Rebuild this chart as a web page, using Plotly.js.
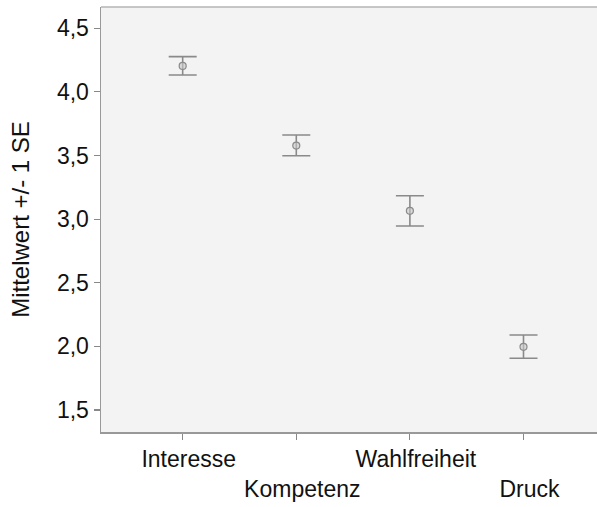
<!DOCTYPE html>
<html>
<head>
<meta charset="utf-8">
<script src="https://cdn.plot.ly/plotly-3.0.1.min.js"></script>
<style>html,body{margin:0;padding:0;background:#fff;}#chart{width:597px;height:507px;}</style>
</head>
<body>
<div id="chart"></div>
<script>
const categories = ["Interesse", "Kompetenz", "Wahlfreiheit", "Druck"];
const tickLabels = ["Interesse", "<br>Kompetenz", "Wahlfreiheit", "<br>Druck"];
const means = [4.204, 3.578, 3.065, 1.996];
const seUpper = [0.073, 0.083, 0.119, 0.093];
const seLower = [0.071, 0.080, 0.119, 0.090];
const yTicks = [1.5, 2.0, 2.5, 3.0, 3.5, 4.0, 4.5];

const trace = {
  type: "scatter",
  mode: "markers",
  x: [0, 1, 2, 3],
  y: means,
  error_y: {type: "data", symmetric: false, array: seUpper, arrayminus: seLower,
            color: "#8a8a8a", thickness: 1.6, width: 14},
  marker: {symbol: "circle", size: 7, color: "rgba(200,200,200,0.6)",
           line: {color: "#8a8a8a", width: 1.2}},
  hoverinfo: "skip"
};

const font = {family: "Liberation Sans, Arial, sans-serif", size: 23, color: "#111"};

const layout = {
  width: 597, height: 507,
  margin: {l: 101, r: 0, t: 7, b: 75},
  paper_bgcolor: "#ffffff",
  plot_bgcolor: "#f3f3f3",
  separators: ", ",
  showlegend: false,
  font: font,
  xaxis: {
    range: [-0.719, 3.647],
    tickmode: "array", tickvals: [0, 1, 2, 3], ticktext: tickLabels,
    tickangle: 0,
    ticks: "outside", ticklen: 6, tickcolor: "#888", tickwidth: 1.2,
    ticklabelshift: 6,
    showgrid: false, zeroline: false,
    showline: true, linecolor: "#999", linewidth: 1.5,
    tickfont: font
  },
  yaxis: {
    range: [1.327, 4.667],
    tickmode: "array", tickvals: yTicks, tickformat: ".1f",
    ticks: "outside", ticklen: 6, tickcolor: "#888", tickwidth: 1.2,
    showgrid: false, zeroline: false,
    showline: true, linecolor: "#999", linewidth: 1.5,
    tickfont: font,
    title: {text: "Mittelwert +/- 1 SE", font: {family: font.family, size: 24, color: "#111"}, standoff: 20}
  },
  shapes: [{type: "line", xref: "paper", yref: "paper", x0: 0, x1: 1, y0: 1, y1: 1,
            line: {color: "#b5b5b5", width: 1.5}}]
};

Plotly.newPlot("chart", [trace], layout, {displayModeBar: false, staticPlot: true});
</script>
</body>
</html>
